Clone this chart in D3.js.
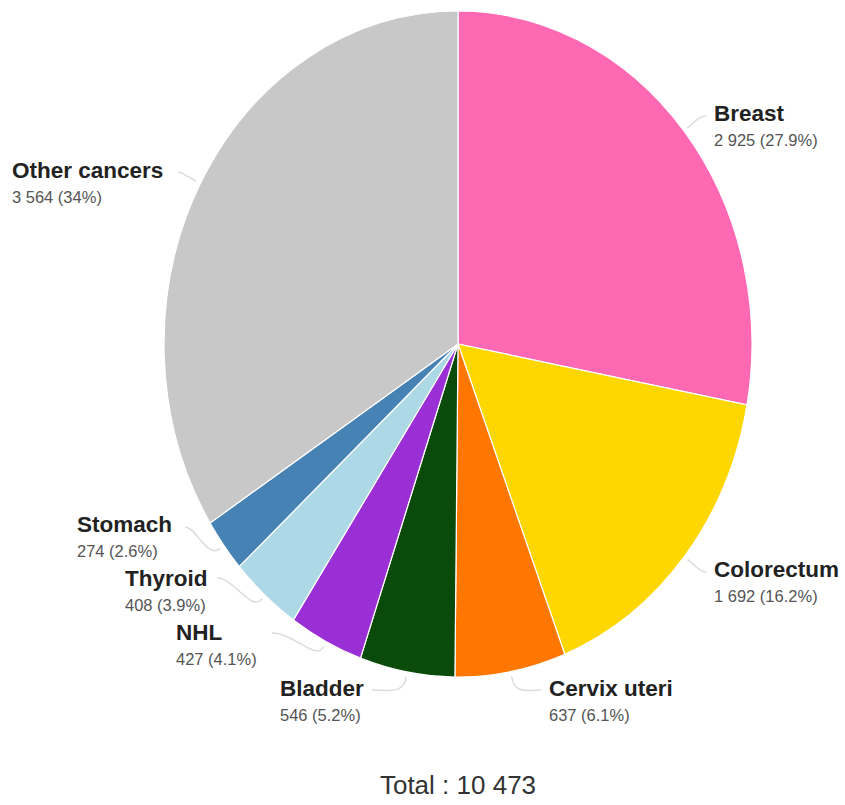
<!DOCTYPE html>
<html>
<head>
<meta charset="utf-8">
<script src="https://cdn.jsdelivr.net/npm/d3@7"></script>
<style>
  html, body { margin: 0; padding: 0; background: #fff; }
  svg { display: block; }
</style>
</head>
<body>
<svg id="chart" width="845" height="805"></svg>
<script>
// Cancer sites, clockwise from 12 o'clock
const sites = ["Breast", "Colorectum", "Cervix uteri", "Bladder", "NHL", "Thyroid", "Stomach", "Other cancers"];
const cases = [2925, 1692, 637, 546, 427, 408, 274, 3564];
const shares = ["27.9%", "16.2%", "6.1%", "5.2%", "4.1%", "3.9%", "2.6%", "34%"];
const colors = ["#ff69b4", "#ffd700", "#ff7700", "#0a4a0a", "#9a2fd6", "#add8e6", "#4682b4", "#c8c8c8"];
const totalLabel = "Total : 10 473";

// Label placement: left x of the text block, name baseline, leader end point
const labelLayout = [
  { x: 714, y: 121, lx: 706, ly: 116 },
  { x: 714, y: 577, lx: 706, ly: 572 },
  { x: 549, y: 696, lx: 541, ly: 690 },
  { x: 280, y: 696, lx: 372, ly: 690 },
  { x: 176, y: 640, lx: 272, ly: 633 },
  { x: 125, y: 586, lx: 217, ly: 578 },
  { x: 77,  y: 532, lx: 185, ly: 527 },
  { x: 12,  y: 178, lx: 178, ly: 172 }
];

const fmt = v => d3.format(",")(v).replace(/,/g, " ");

const svg = d3.select("#chart");
const cx = 458, cy = 344, rx = 294, ry = 333;

const data = sites.map((s, i) => ({ site: s, value: cases[i], share: shares[i], color: colors[i], lab: labelLayout[i] }));

const pie = d3.pie().sort(null).value(d => d.value);
const arcs = pie(data);
const arc = d3.arc().innerRadius(0).outerRadius(ry);

// Pie is drawn as a circle and squeezed horizontally into an ellipse
const g = svg.append("g").attr("transform", `translate(${cx},${cy}) scale(${rx / ry},1)`);
g.selectAll("path")
  .data(arcs)
  .join("path")
  .attr("d", arc)
  .attr("fill", d => d.data.color)
  .attr("stroke", "#fff")
  .attr("stroke-width", 1.2)
  .attr("vector-effect", "non-scaling-stroke");

// Point on the ellipse edge at angle a, radius factor k
const edge = (a, k) => [cx + rx * k * Math.sin(a), cy - ry * k * Math.cos(a)];

const leaders = svg.append("g");
arcs.forEach(d => {
  const a = (d.startAngle + d.endAngle) / 2;
  const p0 = edge(a, 1.015);
  const p1 = edge(a, 1.07);
  const L = d.data.lab;
  const path = d3.path();
  path.moveTo(p0[0], p0[1]);
  path.bezierCurveTo(p1[0], p1[1], (p1[0] + L.lx) / 2, L.ly, L.lx, L.ly);
  leaders.append("path")
    .attr("d", path.toString())
    .attr("fill", "none")
    .attr("stroke", "#dcdcdc")
    .attr("stroke-width", 1.5);
});

// Labels
const labels = svg.append("g").attr("font-family", "'Liberation Sans', Arial, sans-serif");
arcs.forEach(d => {
  const L = d.data.lab;
  labels.append("text")
    .attr("x", L.x).attr("y", L.y)
    .attr("font-size", 22.5).attr("font-weight", "bold").attr("fill", "#222")
    .text(d.data.site);
  labels.append("text")
    .attr("x", L.x).attr("y", L.y + 25)
    .attr("font-size", 16.5).attr("fill", "#555")
    .text(`${fmt(d.data.value)} (${d.data.share})`);
});

svg.append("text")
  .attr("x", 458).attr("y", 794)
  .attr("text-anchor", "middle")
  .attr("font-family", "'Liberation Sans', Arial, sans-serif")
  .attr("font-size", 26).attr("fill", "#333")
  .text(totalLabel);
</script>
</body>
</html>
